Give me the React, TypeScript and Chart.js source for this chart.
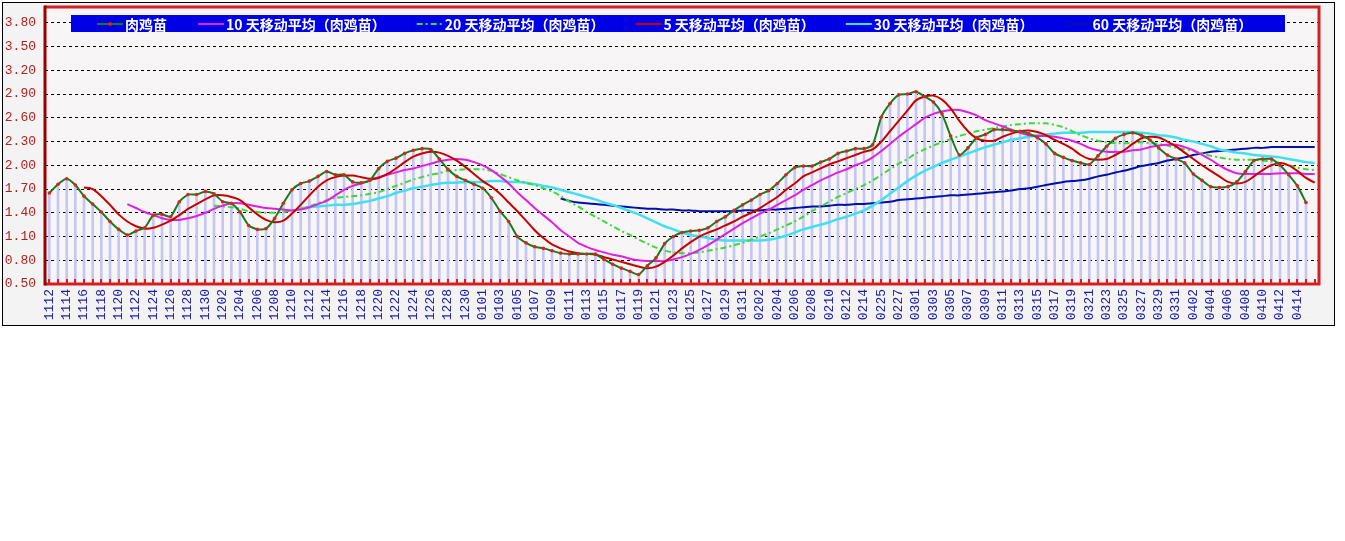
import { useEffect, useRef } from 'react';
import { Chart, registerables } from 'chart.js';

Chart.register(...registerables);

const dates: string[] = [
  '1112','1113','1114','1115','1116','1117','1118','1119','1120','1121','1122','1123','1124','1125','1126','1127','1128','1129','1130',
  '1201','1202','1203','1204','1205','1206','1207','1208','1209','1210','1211','1212','1213','1214','1215','1216','1217','1218','1219','1220','1221','1222','1223','1224','1225','1226','1227','1228','1229','1230','1231',
  '0101','0102','0103','0104','0105','0106','0107','0108','0109','0110','0111','0112','0113','0114','0115','0116','0117','0118','0119','0120','0121','0122','0123','0124','0125','0126','0127','0128','0129','0130','0131',
  '0201','0202','0203','0204','0205','0206','0207','0208','0209','0210','0211','0212','0213','0214','0224','0225','0226','0227','0228',
  '0301','0302','0303','0304','0305','0306','0307','0308','0309','0310','0311','0312','0313','0314','0315','0316','0317','0318','0319','0320','0321','0322','0323','0324','0325','0326','0327','0328','0329','0330','0331',
  '0401','0402','0403','0404','0405','0406','0407','0408','0409','0410','0411','0412','0413','0414','0415',''
];

const price: number[] = [
  1.65,1.76,1.83,1.75,1.61,1.51,1.41,1.29,1.19,1.12,
  1.17,1.21,1.37,1.38,1.35,1.54,1.63,1.63,1.67,1.64,
  1.54,1.52,1.41,1.24,1.19,1.20,1.33,1.52,1.69,1.77,
  1.80,1.86,1.92,1.88,1.88,1.79,1.78,1.81,1.96,2.05,
  2.09,2.15,2.19,2.21,2.20,2.08,1.95,1.86,1.81,1.76,
  1.71,1.59,1.42,1.29,1.10,1.02,0.97,0.95,0.92,0.89,
  0.88,0.88,0.88,0.88,0.81,0.75,0.70,0.66,0.62,0.73,
  0.83,1.01,1.10,1.15,1.17,1.18,1.21,1.29,1.35,1.43,
  1.50,1.56,1.63,1.68,1.77,1.88,1.97,1.99,1.99,2.04,
  2.08,2.15,2.18,2.21,2.21,2.26,2.61,2.78,2.89,2.90,
  2.93,2.87,2.80,2.65,2.37,2.13,2.22,2.35,2.39,2.45,
  2.45,2.44,2.43,2.40,2.35,2.27,2.15,2.10,2.06,2.03,
  2.01,2.12,2.24,2.34,2.39,2.41,2.38,2.32,2.22,2.13,
  2.08,2.03,1.89,1.81,1.73,1.72,1.73,1.79,1.92,2.06,
  2.08,2.08,2.00,1.88,1.74,1.53
];

const ma5Start = 4;
const ma5: number[] = [
  1.72,1.70,1.61,1.50,1.38,1.29,1.23,1.20,1.21,1.25,
  1.30,1.37,1.45,1.51,1.57,1.62,1.62,1.60,1.56,1.47,
  1.38,1.31,1.28,1.30,1.39,1.50,1.62,1.73,1.81,1.85,
  1.87,1.87,1.85,1.83,1.84,1.89,1.96,2.04,2.11,2.15,
  2.17,2.16,2.12,2.06,1.98,1.89,1.80,1.73,1.64,1.53,
  1.42,1.30,1.18,1.08,1.00,0.95,0.91,0.89,0.88,0.87,
  0.84,0.81,0.78,0.75,0.72,0.70,0.72,0.78,0.86,0.95,
  1.03,1.10,1.15,1.19,1.24,1.29,1.35,1.40,1.46,1.53,
  1.60,1.69,1.77,1.86,1.91,1.96,2.01,2.05,2.09,2.13,
  2.17,2.20,2.30,2.43,2.56,2.69,2.82,2.87,2.88,2.83,
  2.72,2.56,2.43,2.34,2.31,2.31,2.36,2.40,2.43,2.44,
  2.42,2.38,2.32,2.27,2.21,2.13,2.08,2.07,2.08,2.13,
  2.19,2.27,2.34,2.36,2.35,2.30,2.24,2.16,2.08,2.00,
  1.93,1.86,1.79,1.77,1.79,1.86,1.94,2.00,2.03,2.00,
  1.93,1.84,1.78
];

const ma10Start = 9;
const ma10: number[] = [
  1.51,1.46,1.41,1.37,1.33,1.31,1.31,1.33,1.36,1.40,
  1.45,1.49,1.52,1.52,1.50,1.48,1.46,1.45,1.44,1.43,
  1.44,1.47,1.51,1.55,1.62,1.69,1.74,1.77,1.81,1.85,
  1.88,1.91,1.94,1.96,1.99,2.02,2.05,2.07,2.08,2.07,
  2.04,2.00,1.94,1.86,1.77,1.66,1.56,1.46,1.37,1.28,
  1.18,1.10,1.02,0.97,0.93,0.90,0.87,0.85,0.82,0.80,
  0.79,0.79,0.79,0.81,0.84,0.88,0.93,0.99,1.06,1.13,
  1.20,1.27,1.33,1.39,1.44,1.50,1.56,1.62,1.69,1.75,
  1.81,1.86,1.91,1.95,2.00,2.04,2.10,2.18,2.27,2.36,
  2.44,2.52,2.60,2.65,2.68,2.70,2.70,2.67,2.63,2.57,
  2.53,2.49,2.45,2.41,2.38,2.37,2.37,2.36,2.34,2.31,
  2.27,2.22,2.19,2.17,2.17,2.17,2.19,2.20,2.23,2.25,
  2.26,2.26,2.23,2.19,2.13,2.07,2.00,1.94,1.90,1.89,
  1.89,1.89,1.89,1.90,1.90,1.90,1.89,1.89
];

const ma20Start = 19;
const ma20: number[] = [
  1.49,1.48,1.47,1.45,1.42,1.41,1.40,1.40,1.41,1.43,
  1.45,1.48,1.52,1.56,1.59,1.60,1.61,1.62,1.64,1.66,
  1.70,1.74,1.78,1.82,1.85,1.88,1.90,1.93,1.94,1.95,
  1.95,1.95,1.93,1.89,1.85,1.81,1.78,1.75,1.71,1.67,
  1.61,1.54,1.48,1.41,1.35,1.29,1.23,1.17,1.12,1.06,
  1.01,0.96,0.92,0.90,0.89,0.89,0.90,0.92,0.94,0.96,
  0.99,1.02,1.06,1.10,1.14,1.19,1.24,1.29,1.35,1.42,
  1.48,1.54,1.60,1.65,1.70,1.75,1.81,1.88,1.95,2.02,
  2.08,2.15,2.20,2.25,2.29,2.33,2.37,2.40,2.43,2.45,
  2.47,2.49,2.51,2.52,2.53,2.53,2.53,2.51,2.48,2.43,
  2.38,2.34,2.31,2.29,2.28,2.28,2.28,2.29,2.28,2.27,
  2.25,2.22,2.20,2.18,2.15,2.12,2.10,2.08,2.07,2.07,
  2.07,2.06,2.05,2.03,2.00,1.97,1.95,1.94
];

const ma30Start = 29;
const ma30: number[] = [
  1.46,1.47,1.48,1.49,1.50,1.50,1.51,1.53,1.55,1.58,
  1.61,1.65,1.68,1.71,1.73,1.75,1.77,1.78,1.78,1.79,
  1.79,1.79,1.80,1.80,1.79,1.79,1.78,1.76,1.74,1.72,
  1.69,1.66,1.63,1.60,1.57,1.53,1.50,1.46,1.42,1.38,
  1.33,1.28,1.23,1.19,1.15,1.12,1.10,1.08,1.06,1.05,
  1.05,1.05,1.05,1.05,1.06,1.08,1.11,1.15,1.19,1.22,
  1.25,1.28,1.32,1.35,1.39,1.43,1.49,1.56,1.64,1.72,
  1.80,1.87,1.93,1.98,2.03,2.07,2.11,2.15,2.19,2.23,
  2.26,2.29,2.32,2.34,2.36,2.38,2.39,2.40,2.41,2.41,
  2.41,2.42,2.42,2.42,2.42,2.42,2.42,2.41,2.40,2.38,
  2.37,2.35,2.32,2.30,2.27,2.24,2.20,2.18,2.16,2.15,
  2.13,2.12,2.11,2.10,2.08,2.06,2.04,2.03
];

const ma60Start = 59;
const ma60: number[] = [
  1.58,1.55,1.53,1.52,1.51,1.50,1.49,1.48,1.47,1.46,
  1.45,1.45,1.44,1.44,1.43,1.43,1.42,1.42,1.42,1.42,
  1.42,1.43,1.43,1.43,1.44,1.44,1.45,1.46,1.47,1.48,
  1.48,1.49,1.50,1.50,1.51,1.51,1.52,1.53,1.54,1.56,
  1.57,1.58,1.59,1.60,1.61,1.62,1.62,1.63,1.64,1.65,
  1.66,1.67,1.68,1.70,1.71,1.73,1.75,1.77,1.79,1.80,
  1.81,1.83,1.86,1.88,1.91,1.93,1.96,1.99,2.01,2.03,
  2.06,2.08,2.10,2.13,2.15,2.17,2.18,2.19,2.20,2.21,
  2.22,2.22,2.23,2.23,2.23,2.23,2.23,2.23
];

const yTicks: number[] = [0.5, 0.8, 1.1, 1.4, 1.7, 2.0, 2.3, 2.6, 2.9, 3.2, 3.5, 3.8];

const seriesNames: string[] = [
  '肉鸡苗',
  '10 天移动平均（肉鸡苗）',
  '20 天移动平均（肉鸡苗）',
  '5 天移动平均（肉鸡苗）',
  '30 天移动平均（肉鸡苗）',
  '60 天移动平均（肉鸡苗）',
];

const pad = (start: number, vals: number[]) =>
  (new Array(start).fill(null) as (number | null)[]).concat(vals);

const framePlugin = {
  id: 'framePlugin',
  beforeDraw(chart: any) {
    const { ctx, chartArea: a, width, height } = chart;
    ctx.save();
    ctx.fillStyle = '#ffffff';
    ctx.fillRect(0, 0, width, height);
    ctx.fillStyle = '#f3f3f3';
    ctx.fillRect(2, 2, 1333, 324);
    ctx.strokeStyle = '#000000';
    ctx.lineWidth = 1;
    ctx.strokeRect(2.5, 2.5, 1332, 323);
    ctx.fillStyle = '#f7f5f5';
    ctx.fillRect(a.left, a.top, a.right - a.left, a.bottom - a.top);
    ctx.restore();
  },
  afterDatasetsDraw(chart: any) {
    const { ctx, chartArea: a } = chart;
    const xs = chart.scales.x;
    ctx.save();
    ctx.lineWidth = 3;
    ctx.strokeStyle = '#d42020';
    ctx.beginPath();
    ctx.moveTo(a.left, a.top);
    ctx.lineTo(a.right, a.top);
    ctx.lineTo(a.right, a.bottom);
    ctx.lineTo(a.left, a.bottom);
    ctx.stroke();
    ctx.strokeStyle = '#9a0000';
    ctx.beginPath();
    ctx.moveTo(a.left, a.top - 1.5);
    ctx.lineTo(a.left, a.bottom + 1.5);
    ctx.stroke();
    ctx.strokeStyle = '#d42020';
    ctx.lineWidth = 2;
    for (let i = 0; i < dates.length; i++) {
      const x = Math.round(xs.getPixelForValue(i));
      ctx.beginPath();
      ctx.moveTo(x, a.bottom);
      ctx.lineTo(x, a.bottom - 5);
      ctx.stroke();
    }
    ctx.restore();
  },
  afterDraw(chart: any) {
    const { ctx } = chart;
    const order = [1, 2, 3, 4, 5, 6];
    ctx.save();
    ctx.fillStyle = '#0000e6';
    ctx.fillRect(71, 15, 1214, 17);
    ctx.font = 'bold 14px "Noto Sans CJK SC", sans-serif';
    ctx.textBaseline = 'middle';
    ctx.textAlign = 'left';
    let x = 97;
    const y = 24;
    order.forEach((idx) => {
      const ds = chart.data.datasets[idx];
      ctx.strokeStyle = ds.borderColor;
      ctx.lineWidth = 2;
      ctx.setLineDash(ds.borderDash || []);
      ctx.beginPath();
      ctx.moveTo(x, y);
      ctx.lineTo(x + 26, y);
      ctx.stroke();
      ctx.setLineDash([]);
      if (idx === 1) {
        ctx.fillStyle = '#e02020';
        ctx.beginPath();
        ctx.arc(x + 13, y, 2, 0, Math.PI * 2);
        ctx.fill();
      }
      ctx.fillStyle = '#ffffff';
      ctx.fillText(ds.label, x + 28, y + 1);
      x += 28 + ctx.measureText(ds.label).width + 31;
    });
    ctx.restore();
  },
};

export default function App() {
  const ref = useRef<HTMLCanvasElement>(null);

  useEffect(() => {
    document.body.style.margin = '0';
    const canvas = ref.current;
    if (!canvas) return;
    const lineBase = {
      type: 'line' as const,
      pointRadius: 0,
      pointHoverRadius: 0,
      borderWidth: 2,
      tension: 0.3,
      fill: false,
    };
    const chart = new Chart(canvas, {
      type: 'bar',
      data: {
        labels: dates,
        datasets: [
          {
            type: 'bar',
            label: seriesNames[0],
            data: price,
            backgroundColor: '#c6c6f2',
            barThickness: 2,
            order: 10,
          } as any,
          {
            ...lineBase,
            label: seriesNames[0],
            data: price,
            borderColor: '#1c7a1c',
            pointRadius: 1.8,
            pointBackgroundColor: '#e02020',
            pointBorderWidth: 0,
            tension: 0.2,
            order: 0,
          },
          {
            ...lineBase,
            label: seriesNames[1],
            data: pad(ma10Start, ma10),
            borderColor: '#e020e0',
            order: 3,
          },
          {
            ...lineBase,
            label: seriesNames[2],
            data: pad(ma20Start, ma20),
            borderColor: '#3cd83c',
            borderDash: [6, 3, 2, 3],
            order: 4,
          },
          {
            ...lineBase,
            label: seriesNames[3],
            data: pad(ma5Start, ma5),
            borderColor: '#c80000',
            order: 1,
          },
          {
            ...lineBase,
            label: seriesNames[4],
            data: pad(ma30Start, ma30),
            borderColor: '#40e0f0',
            borderWidth: 2.5,
            order: 5,
          },
          {
            ...lineBase,
            label: seriesNames[5],
            data: pad(ma60Start, ma60),
            borderColor: '#0010a8',
            order: 6,
          },
        ],
      },
      options: {
        responsive: false,
        animation: false,
        events: [],
        layout: { padding: { left: 0, top: 7, right: 26, bottom: 0 } },
        plugins: {
          legend: { display: false },
          tooltip: { enabled: false },
        },
        scales: {
          x: {
            type: 'category',
            offset: true,
            grid: { display: false, drawTicks: false },
            border: { display: false },
            ticks: {
              autoSkip: false,
              minRotation: 90,
              maxRotation: 90,
              padding: 5,
              color: '#1c1ca8',
              font: { family: '"Liberation Mono", monospace', size: 13 },
              callback: (_v: any, i: number) => (i % 2 === 0 ? dates[i] : ''),
            },
            afterFit: (scale: any) => {
              scale.height = 541 - 284;
              scale.paddingLeft = 0;
              scale.paddingRight = 0;
            },
          },
          y: {
            type: 'linear',
            min: 0.5,
            max: 4.0,
            afterBuildTicks: (scale: any) => {
              scale.ticks = yTicks.map((v) => ({ value: v }));
            },
            afterFit: (scale: any) => {
              scale.width = 45;
              scale.paddingTop = 0;
              scale.paddingBottom = 0;
            },
            grid: {
              drawTicks: false,
              lineWidth: 1,
              color: (ctx: any) =>
                ctx.tick && Math.abs(ctx.tick.value - 0.5) < 1e-6 ? 'rgba(0,0,0,0)' : '#000000',
            },
            border: { display: false, dash: [3, 3] },
            ticks: {
              padding: 9,
              color: '#b41e1e',
              font: { family: '"Liberation Mono", monospace', size: 13 },
              callback: (v: any) => Number(v).toFixed(2),
            },
          },
        },
      },
      plugins: [framePlugin],
    } as any);
    return () => chart.destroy();
  }, []);

  return (
    <canvas
      ref={ref}
      width={1345}
      height={541}
      style={{ display: 'block', width: 1345, height: 541 }}
    />
  );
}
